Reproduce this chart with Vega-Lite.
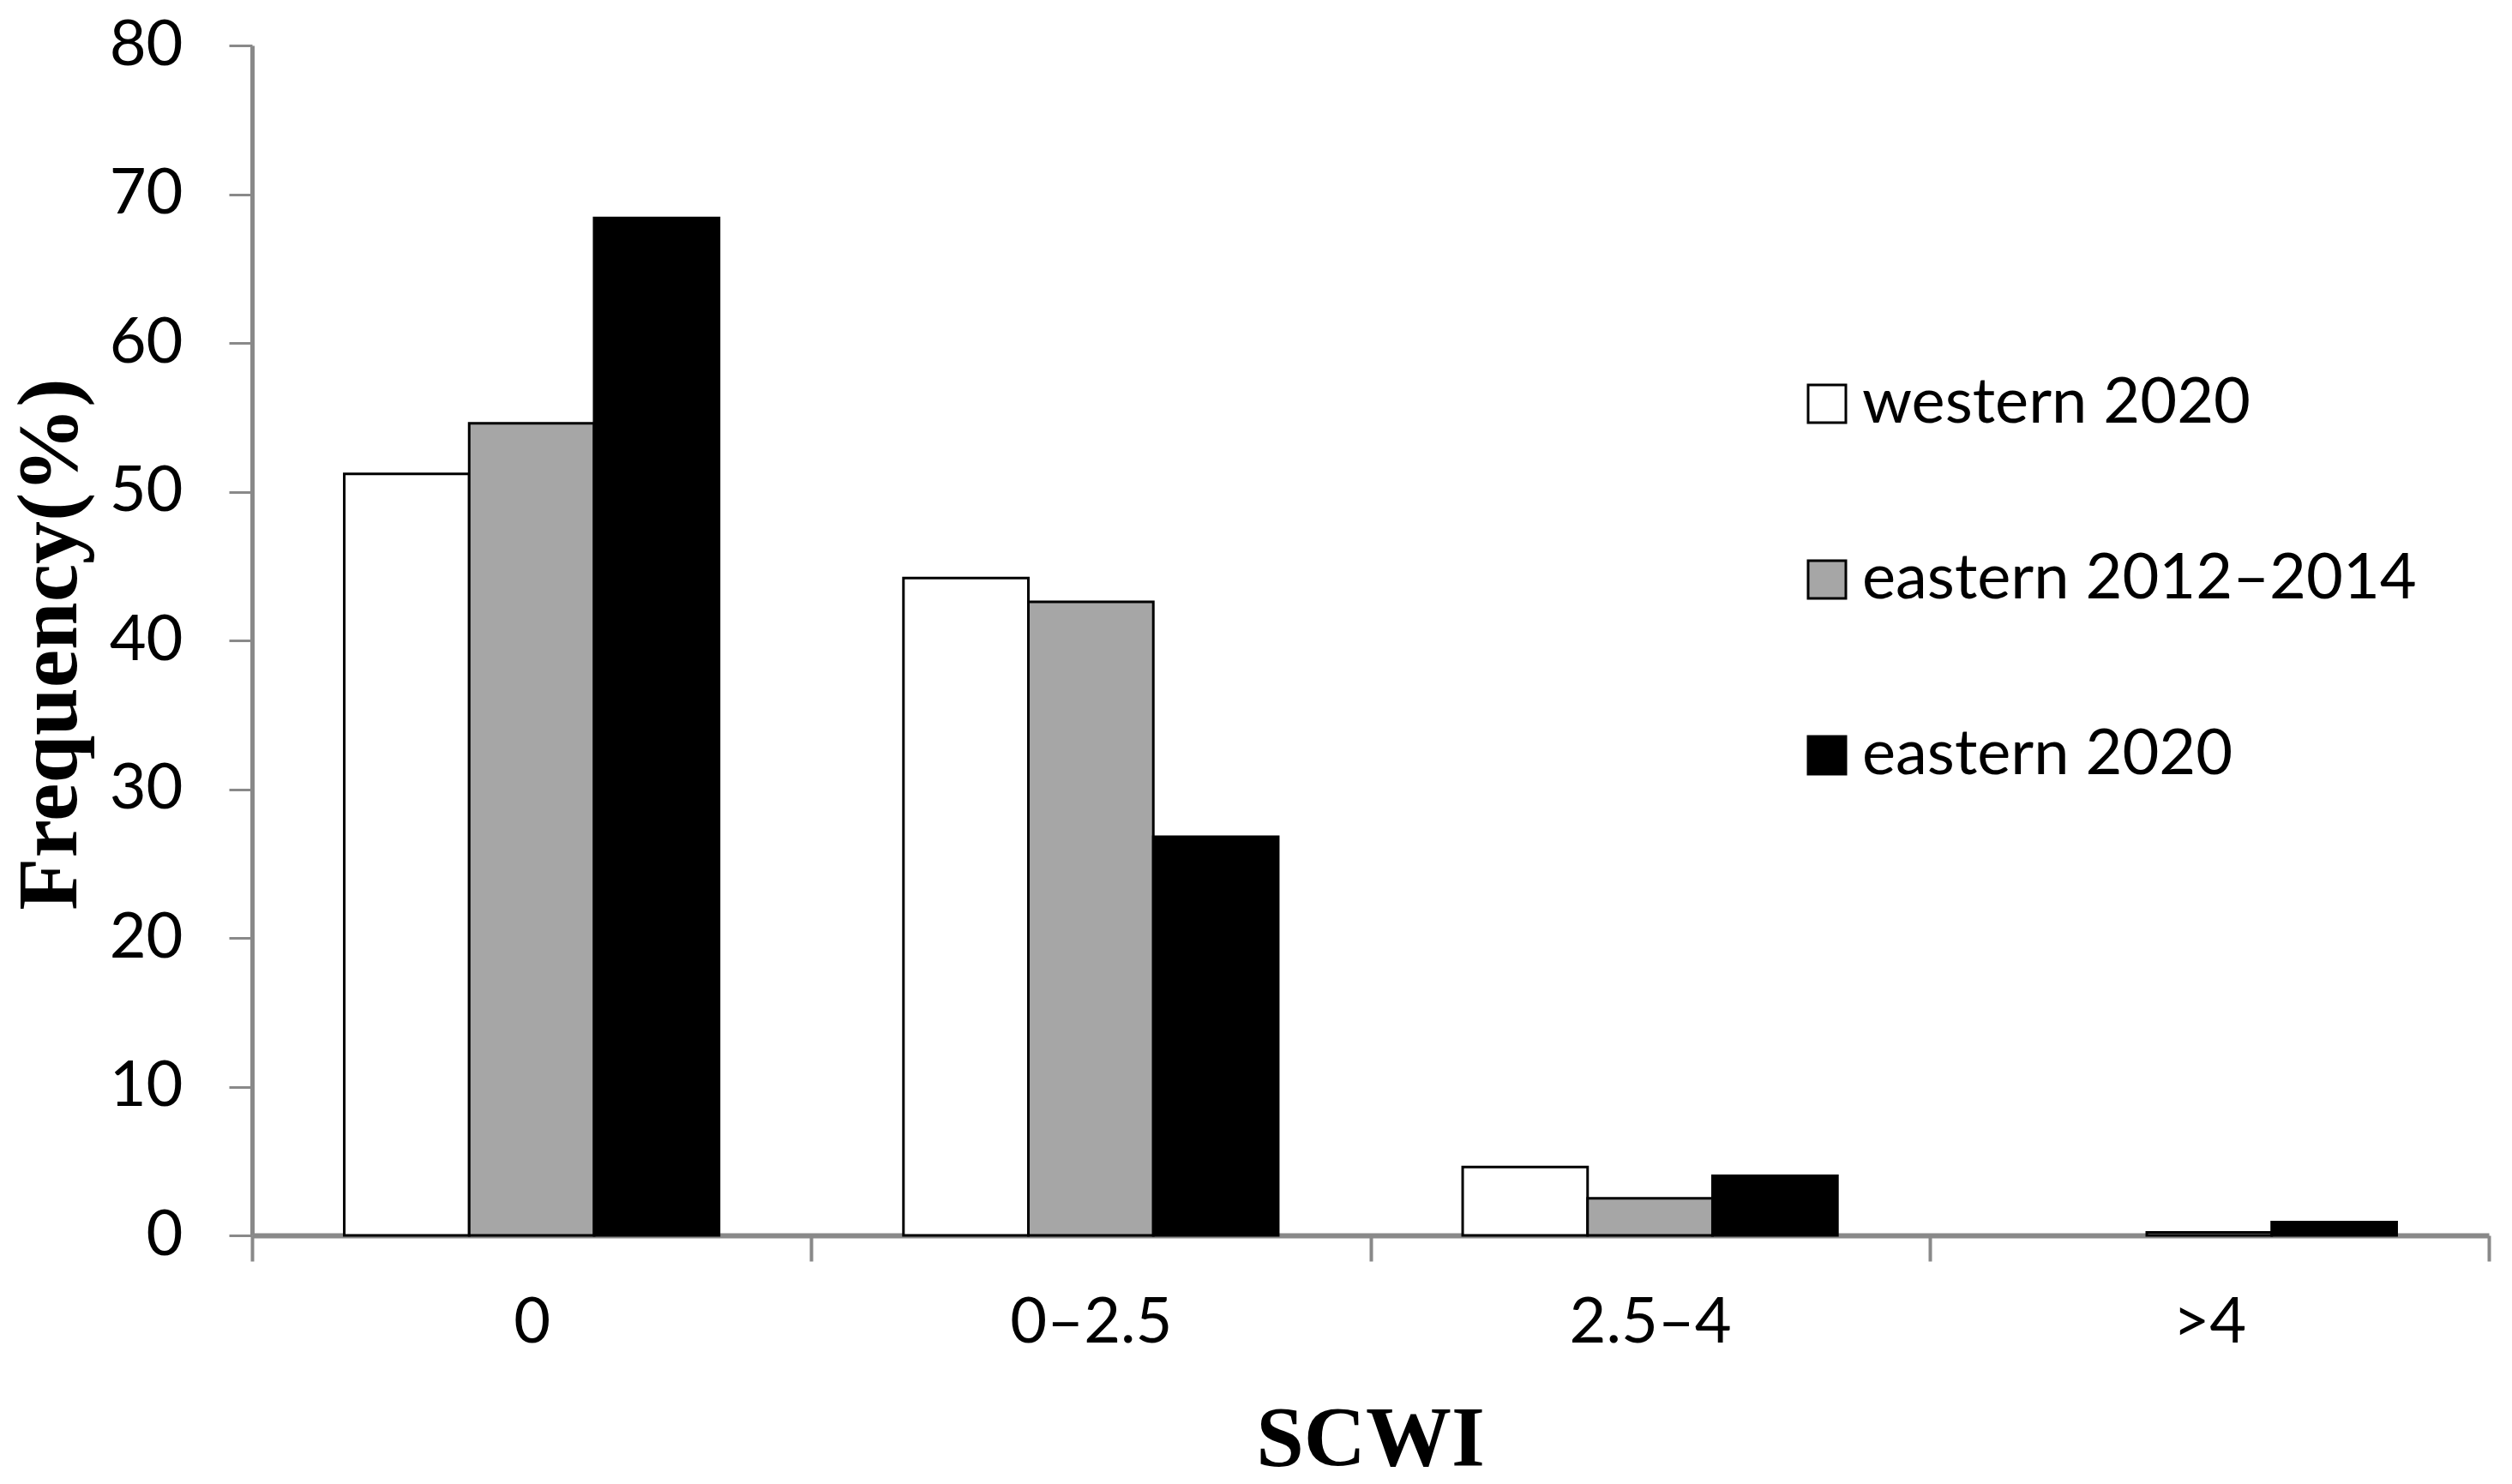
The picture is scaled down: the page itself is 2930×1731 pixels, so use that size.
{
  "$schema": "https://vega.github.io/schema/vega-lite/v6.json",
  "autosize": "none",
  "width": 2609,
  "height": 1388,
  "padding": {"left": 294, "top": 53, "right": 27, "bottom": 290},
  "background": "white",
  "config": {
    "view": {"stroke": null},
    "axis": {"labelFont": "Lato", "labelColor": "black", "labelLimit": 0, "titleFont": "Liberation Serif", "titleFontWeight": "bold", "titleColor": "black", "titleFontSize": 100, "domainColor": "#898989", "tickColor": "#898989", "grid": false}
  },
  "data": {
    "values": [
      {"scwi": "0", "series": "western 2020", "freq": 51.2},
      {"scwi": "0", "series": "eastern 2012–2014", "freq": 54.6},
      {"scwi": "0", "series": "eastern 2020", "freq": 68.4},
      {"scwi": "0–2.5", "series": "western 2020", "freq": 44.2},
      {"scwi": "0–2.5", "series": "eastern 2012–2014", "freq": 42.6},
      {"scwi": "0–2.5", "series": "eastern 2020", "freq": 26.8},
      {"scwi": "2.5–4", "series": "western 2020", "freq": 4.6},
      {"scwi": "2.5–4", "series": "eastern 2012–2014", "freq": 2.5},
      {"scwi": "2.5–4", "series": "eastern 2020", "freq": 4.0},
      {"scwi": ">4", "series": "western 2020", "freq": null},
      {"scwi": ">4", "series": "eastern 2012–2014", "freq": 0.2},
      {"scwi": ">4", "series": "eastern 2020", "freq": 0.9}
    ]
  },
  "mark": {"type": "bar", "stroke": "black", "strokeWidth": 3},
  "encoding": {
    "x": {
      "field": "scwi", "type": "nominal", "sort": ["0", "0–2.5", "2.5–4", ">4"],
      "scale": {"paddingInner": 0, "paddingOuter": 0},
      "axis": {"title": "SCWI", "labelAngle": 0, "labelFontSize": 74, "labelPadding": 36, "labelBaseline": "top", "tickBand": "extent", "tickSize": 30, "tickWidth": 4, "domainWidth": 6, "titleX": 1304, "titleY": 267, "titleBaseline": "alphabetic", "titleAlign": "center"}
    },
    "xOffset": {
      "field": "series", "type": "nominal", "sort": ["western 2020", "eastern 2012–2014", "eastern 2020"],
      "scale": {"paddingInner": 0, "paddingOuter": 0.738}
    },
    "y": {
      "field": "freq", "type": "quantitative",
      "scale": {"domain": [0, 80], "nice": false},
      "axis": {"title": "Frequency(%)", "values": [0, 10, 20, 30, 40, 50, 60, 70, 80], "labelFontSize": 74, "labelPadding": 54, "tickSize": 27, "tickWidth": 3, "domainWidth": 5, "titleAngle": -90, "titleX": -206, "titleY": 698, "titleAlign": "center", "titleBaseline": "alphabetic"}
    },
    "color": {
      "field": "series", "type": "nominal", "sort": ["western 2020", "eastern 2012–2014", "eastern 2020"],
      "scale": {"domain": ["western 2020", "eastern 2012–2014", "eastern 2020"], "range": ["#ffffff", "#a6a6a6", "#000000"]},
      "legend": {"title": null, "orient": "none", "legendX": 1800, "legendY": 381, "symbolType": "square", "symbolSize": 1936, "symbolStrokeColor": "black", "symbolStrokeWidth": 3, "labelFont": "Lato", "labelFontSize": 74, "labelColor": "black", "labelLimit": 0, "labelOffset": 4, "rowPadding": 131, "padding": 0}
    }
  }
}
